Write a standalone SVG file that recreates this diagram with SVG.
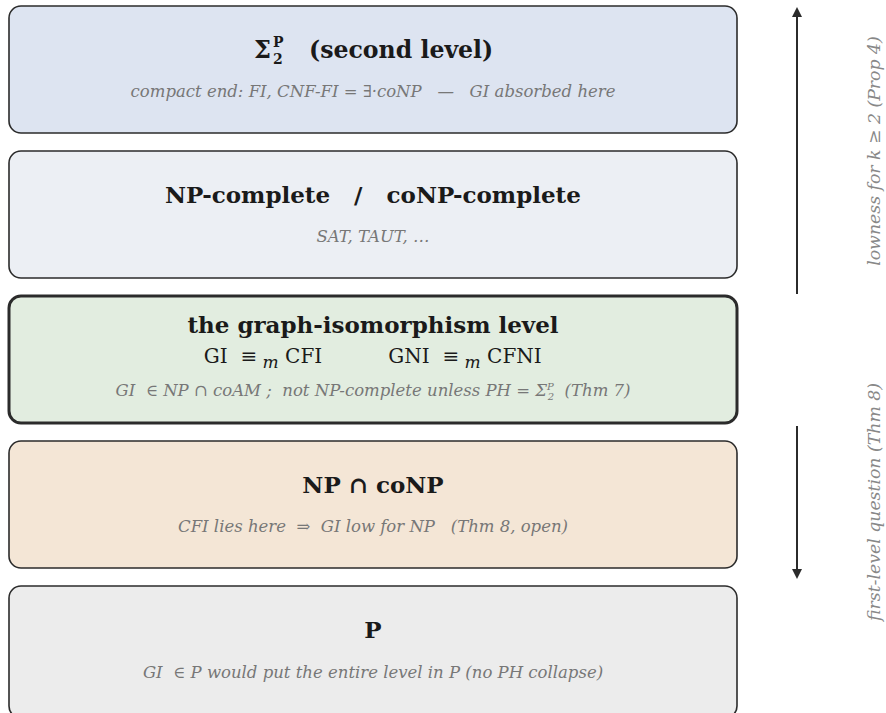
<svg xmlns="http://www.w3.org/2000/svg" width="886" height="713" viewBox="0 0 886 713">
<style>
.box{stroke:#2b2b2b;stroke-width:1.6}
.t{font-family:"DejaVu Serif",serif;font-weight:bold;font-size:23px;fill:#1a1a1a;text-anchor:middle;white-space:pre}
.r{font-family:"DejaVu Serif",serif;font-size:20px;fill:#1a1a1a;text-anchor:middle;white-space:pre}
.s{font-family:"DejaVu Serif",serif;font-style:italic;font-size:16.5px;fill:#777;text-anchor:middle;white-space:pre}
.side{font-family:"DejaVu Serif",serif;font-style:italic;font-size:17.3px;fill:#888;text-anchor:middle;white-space:pre}
.arr{stroke:#2b2b2b;stroke-width:2;fill:none}
</style>
<defs>
<marker id="ah" viewBox="0 0 10 10" refX="5" refY="5" markerWidth="5" markerHeight="5" orient="auto-start-reverse" markerUnits="strokeWidth">
<path d="M0,0 L10,5 L0,10 z" fill="#2b2b2b"/>
</marker>
</defs>
<rect width="886" height="713" fill="#ffffff"/>
<g id="sigma2">
<rect class="box" x="9" y="6" width="728" height="127" rx="12" fill="#dde4f1"/>
<text class="t" x="254" y="58" style="text-anchor:start;font-size:24px">Σ</text>
<text class="t" x="273" y="47" style="text-anchor:start;font-size:14px">P</text>
<text class="t" x="273" y="64" style="text-anchor:start;font-size:14px">2</text>
<text class="t" x="309" y="58" style="text-anchor:start;font-size:23.6px">(second level)</text>
<text class="s" x="373" y="97">compact end: FI, CNF-FI = ∃·coNP   —   GI absorbed here</text>
</g>
<g id="npc">
<rect class="box" x="9" y="151" width="728" height="127" rx="12" fill="#eceff4"/>
<text class="t" x="373" y="203">NP-complete   /   coNP-complete</text>
<text class="s" x="373" y="242">SAT, TAUT, …</text>
</g>
<g id="gi">
<rect class="box" x="9" y="296" width="728" height="127" rx="12" fill="#e2ede0" style="stroke-width:3"/>
<text class="t" x="373" y="333">the graph-isomorphism level</text>
<text class="r" x="263" y="363">GI  ≡<tspan font-style="italic" font-size="17" dy="5"> m</tspan><tspan dy="-5"> CFI</tspan></text>
<text class="r" x="465" y="363">GNI  ≡<tspan font-style="italic" font-size="17" dy="5"> m</tspan><tspan dy="-5"> CFNI</tspan></text>
<text class="s" x="373" y="396">GI  ∈ NP ∩ coAM ;  not NP-complete unless PH = Σ<tspan font-size="10" dy="-6">P</tspan><tspan font-size="10" dx="-6" dy="10">2</tspan><tspan dy="-4">  (Thm 7)</tspan></text>
</g>
<g id="npconp">
<rect class="box" x="9" y="441" width="728" height="127" rx="12" fill="#f4e6d6"/>
<text class="t" x="373" y="493">NP ∩ coNP</text>
<text class="s" x="373" y="532">CFI lies here  ⇒  GI low for NP   (Thm 8, open)</text>
</g>
<g id="p">
<rect class="box" x="9" y="586" width="728" height="132" rx="12" fill="#ececec"/>
<text class="t" x="373" y="638">P</text>
<text class="s" x="373" y="678">GI  ∈ P would put the entire level in P (no PH collapse)</text>
</g>
<g id="connectors">
<line class="arr" x1="797" y1="294" x2="797" y2="12" marker-end="url(#ah)"/>
<line class="arr" x1="797" y1="426" x2="797" y2="574" marker-end="url(#ah)"/>
</g>
<g id="labels">
<text class="side" transform="translate(880,151) rotate(-90)">lowness for k ≥ 2 (Prop 4)</text>
<text class="side" transform="translate(880,502) rotate(-90)">first-level question (Thm 8)</text>
</g>
</svg>
